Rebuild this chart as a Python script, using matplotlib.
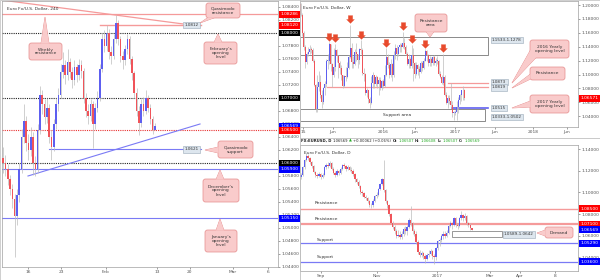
import numpy as np
import matplotlib
matplotlib.use('Agg')
import matplotlib.pyplot as plt
from matplotlib.patches import FancyBboxPatch, Polygon, Rectangle
from matplotlib.path import Path
from matplotlib import transforms

# ---- H4 chart (left) ----
h4_open0 = 1.0608
h4_close = [1.0600, 1.0590, 1.0575, 1.0560, 1.0545, 1.0518, 1.0550, 1.0590, 1.0640, 1.0665,
            1.0630, 1.0620, 1.0640, 1.0600, 1.0590, 1.0650, 1.0705, 1.0690, 1.0670, 1.0685,
            1.0640, 1.0625, 1.0660, 1.0690, 1.0705, 1.0740, 1.0750, 1.0735, 1.0755, 1.0740,
            1.0728, 1.0748, 1.0735, 1.0750, 1.0742, 1.0700, 1.0680, 1.0672, 1.0690, 1.0660,
            1.0685, 1.0700, 1.0745, 1.0790, 1.0780, 1.0800, 1.0770, 1.0765, 1.0790, 1.0815,
            1.0790, 1.0765, 1.0758, 1.0775, 1.0790, 1.0760, 1.0738, 1.0708, 1.0680, 1.0662,
            1.0690, 1.0680, 1.0700, 1.0685, 1.0668, 1.06507, 1.06569]
h4_high = [1.0625, 1.0612, 1.0598, 1.0582, 1.0568, 1.0552, 1.0560, 1.0600, 1.0652, 1.0690,
           1.0672, 1.0645, 1.0655, 1.0648, 1.0610, 1.0660, 1.0718, 1.0712, 1.0698, 1.0700,
           1.0690, 1.0650, 1.0668, 1.0700, 1.0715, 1.0752, 1.0770, 1.0758, 1.0775, 1.0762,
           1.0748, 1.0758, 1.0752, 1.0760, 1.0758, 1.0746, 1.0708, 1.0690, 1.0698, 1.0695,
           1.0692, 1.0710, 1.0752, 1.0800, 1.0805, 1.0812, 1.0806, 1.0780, 1.0798, 1.0828,
           1.0820, 1.0795, 1.0772, 1.0782, 1.0798, 1.0795, 1.0765, 1.0742, 1.0715, 1.0688,
           1.0698, 1.0702, 1.0712, 1.0705, 1.0690, 1.0672, 1.06608]
h4_low = [1.0585, 1.0580, 1.0566, 1.0550, 1.0530, 1.0455, 1.0505, 1.0540, 1.0585, 1.0630,
          1.0618, 1.0605, 1.0610, 1.0582, 1.0580, 1.0585, 1.0645, 1.0675, 1.0660, 1.0662,
          1.0630, 1.0605, 1.0618, 1.0652, 1.0680, 1.0700, 1.0730, 1.0722, 1.0728, 1.0730,
          1.0715, 1.0720, 1.0725, 1.0728, 1.0730, 1.0692, 1.0670, 1.0660, 1.0665, 1.0623,
          1.0652, 1.0678, 1.0695, 1.0740, 1.0770, 1.0772, 1.0760, 1.0752, 1.0760, 1.0785,
          1.0782, 1.0755, 1.0745, 1.0750, 1.0768, 1.0752, 1.0728, 1.0700, 1.0672, 1.0643,
          1.0655, 1.0672, 1.0675, 1.0678, 1.0660, 1.0645, 1.06507]
h4_tick_pos = [10.8, 25.2, 44.7, 66.9, 81.2, 99.9, 115.1]
h4_tick_lab = ['16', '23', 'Feb', '13', '20', 'Mar', '6']

# ---- Weekly chart (top right) ----
wk_open0 = 1.2010
wk_close = [1.1860, 1.1600, 1.1400, 1.1180, 1.1290, 1.1320, 1.1370, 1.1350, 1.1200, 1.0850,
            1.0500, 1.0820, 1.0890, 1.0700, 1.0600, 1.0800, 1.0870, 1.1200, 1.1200, 1.1440,
            1.1150, 1.1000, 1.1110, 1.1350, 1.1260, 1.1160, 1.1100, 1.0990, 1.0830, 1.0980,
            1.0960, 1.1100, 1.1250, 1.1380, 1.1180, 1.1150, 1.1330, 1.1300, 1.1210, 1.1360,
            1.1350, 1.1015, 1.1005, 1.0740, 1.0770, 1.0650, 1.0590, 1.0880, 1.0990, 1.0870,
            1.0960, 1.0860, 1.0920, 1.0800, 1.0900, 1.0830, 1.1000, 1.1250, 1.1130, 1.1000,
            1.1150, 1.1000, 1.1280, 1.1380, 1.1300, 1.1390, 1.1420, 1.1390, 1.1450, 1.1400,
            1.1300, 1.1150, 1.1220, 1.1120, 1.1280, 1.1160, 1.1010, 1.1130, 1.1080, 1.1040,
            1.1170, 1.1100, 1.1200, 1.1340, 1.1280, 1.1170, 1.1230, 1.1160, 1.1250, 1.1160,
            1.1200, 1.1200, 1.1010, 1.0970, 1.0880, 1.0970, 1.0700, 1.0590, 1.0660, 1.0620,
            1.0560, 1.0450, 1.0450, 1.0460, 1.0530, 1.0640, 1.0700, 1.0770, 1.0780, 1.0657]
wk_high = [1.2030, 1.1880, 1.1620, 1.1420, 1.1330, 1.1400, 1.1430, 1.1400, 1.1380, 1.1220,
           1.0870, 1.1000, 1.1050, 1.0990, 1.0780, 1.0820, 1.0900, 1.1230, 1.1290, 1.1466,
           1.1440, 1.1170, 1.1380, 1.1440, 1.1370, 1.1280, 1.1200, 1.1130, 1.1000, 1.1000,
           1.1110, 1.1180, 1.1280, 1.1714, 1.1450, 1.1260, 1.1360, 1.1460, 1.1300, 1.1380,
           1.1495, 1.1380, 1.1100, 1.1020, 1.0810, 1.0780, 1.0670, 1.0980, 1.1040, 1.1000,
           1.0990, 1.0980, 1.0970, 1.0960, 1.0920, 1.0940, 1.1130, 1.1376, 1.1300, 1.1180,
           1.1220, 1.1170, 1.1340, 1.1440, 1.1420, 1.1400, 1.1450, 1.1460, 1.1616, 1.1520,
           1.1430, 1.1320, 1.1290, 1.1250, 1.1427, 1.1380, 1.1180, 1.1180, 1.1150, 1.1120,
           1.1200, 1.1200, 1.1240, 1.1365, 1.1350, 1.1300, 1.1270, 1.1250, 1.1270, 1.1280,
           1.1240, 1.1260, 1.1210, 1.1050, 1.1000, 1.1299, 1.1000, 1.0750, 1.0700, 1.0700,
           1.0875, 1.0620, 1.0480, 1.0490, 1.0620, 1.0680, 1.0720, 1.0775, 1.0830, 1.0790]
wk_low = [1.1840, 1.1560, 1.1350, 1.1100, 1.1150, 1.1260, 1.1300, 1.1310, 1.1180, 1.0830,
          1.0462, 1.0460, 1.0760, 1.0660, 1.0520, 1.0570, 1.0700, 1.0820, 1.1080, 1.1150,
          1.1050, 1.0820, 1.0960, 1.1050, 1.1180, 1.0950, 1.1010, 1.0920, 1.0810, 1.0820,
          1.0900, 1.0950, 1.1080, 1.1240, 1.1100, 1.1090, 1.1130, 1.1200, 1.1100, 1.1150,
          1.1290, 1.0990, 1.0900, 1.0710, 1.0680, 1.0590, 1.0524, 1.0570, 1.0800, 1.0800,
          1.0840, 1.0800, 1.0710, 1.0780, 1.0770, 1.0810, 1.0820, 1.0980, 1.1090, 1.0950,
          1.0960, 1.0900, 1.0970, 1.1230, 1.1210, 1.1260, 1.1330, 1.1320, 1.1380, 1.1370,
          1.1280, 1.1130, 1.1100, 1.1100, 1.1100, 1.0910, 1.0950, 1.0990, 1.1000, 1.0950,
          1.1020, 1.1050, 1.1080, 1.1190, 1.1200, 1.1120, 1.1120, 1.1120, 1.1130, 1.1130,
          1.1120, 1.1150, 1.0990, 1.0950, 1.0860, 1.0850, 1.0690, 1.0570, 1.0520, 1.0570,
          1.0520, 1.0390, 1.0352, 1.0420, 1.0340, 1.0450, 1.0580, 1.0620, 1.0640, 1.0640]
wk_arrows = [19, 23, 33, 40, 57, 68, 74, 83, 95]
wk_tick_pos = [1.5, 21.5, 54.8, 76.2, 102.8, 129.5, 154.8, 177.5]
wk_tick_lab = ['15', 'Jun', '2016', 'Jun', '2017', 'Jun', '2018', 'Jun']

# ---- Daily chart (bottom right) ----
d_open0 = 1.1140
d_close = [1.1160, 1.1230, 1.1300, 1.1340, 1.1320, 1.1280, 1.1240, 1.1190, 1.1160, 1.1150,
           1.1170, 1.1140, 1.1160, 1.1230, 1.1250, 1.1240, 1.1270, 1.1220, 1.1180, 1.1160,
           1.1200, 1.1180, 1.1220, 1.1250, 1.1240, 1.1220, 1.1230, 1.1210, 1.1200, 1.1170,
           1.1120, 1.1100, 1.1060, 1.1000, 1.0990, 1.0960, 1.0950, 1.0920, 1.0885, 1.0880,
           1.0920, 1.0970, 1.0980, 1.1030, 1.1080, 1.1120, 1.1020, 1.0920, 1.0880, 1.0800,
           1.0720, 1.0680, 1.0640, 1.0600, 1.0610, 1.0590, 1.0620, 1.0660, 1.0640, 1.0680,
           1.0750, 1.0720, 1.0640, 1.0620, 1.0540, 1.0450, 1.0420, 1.0440, 1.0410, 1.0390,
           1.0420, 1.0430, 1.0460, 1.0410, 1.0400, 1.0490, 1.0550, 1.0560, 1.0600, 1.0620,
           1.0600, 1.0630, 1.0690, 1.0720, 1.0700, 1.0760, 1.0700, 1.0690, 1.0760, 1.0790,
           1.0760, 1.0780, 1.0720, 1.0700, 1.0670, 1.0657]
d_high = [1.1175, 1.1245, 1.1310, 1.1365, 1.1350, 1.1330, 1.1290, 1.1250, 1.1200, 1.1180,
          1.1185, 1.1180, 1.1175, 1.1240, 1.1270, 1.1280, 1.1285, 1.1280, 1.1230, 1.1195,
          1.1215, 1.1210, 1.1235, 1.1265, 1.1270, 1.1255, 1.1250, 1.1245, 1.1230, 1.1215,
          1.1180, 1.1135, 1.1110, 1.1070, 1.1020, 1.1000, 1.0980, 1.0960, 1.0930, 1.0905,
          1.0935, 1.0980, 1.1000, 1.1040, 1.1090, 1.1135, 1.1300, 1.1030, 1.0930, 1.0890,
          1.0810, 1.0740, 1.0700, 1.0660, 1.0650, 1.0640, 1.0640, 1.0680, 1.0690, 1.0700,
          1.0760, 1.0875, 1.0730, 1.0660, 1.0640, 1.0560, 1.0470, 1.0460, 1.0450, 1.0430,
          1.0440, 1.0470, 1.0480, 1.0470, 1.0430, 1.0500, 1.0560, 1.0580, 1.0620, 1.0640,
          1.0640, 1.0650, 1.0710, 1.0740, 1.0730, 1.0775, 1.0770, 1.0720, 1.0770, 1.0830,
          1.0800, 1.0810, 1.0790, 1.0730, 1.0720, 1.0661]
d_low = [1.1120, 1.1150, 1.1220, 1.1290, 1.1300, 1.1265, 1.1225, 1.1180, 1.1140, 1.1130,
         1.1140, 1.1125, 1.1130, 1.1150, 1.1220, 1.1225, 1.1230, 1.1205, 1.1165, 1.1140,
         1.1150, 1.1160, 1.1170, 1.1210, 1.1225, 1.1200, 1.1210, 1.1195, 1.1180, 1.1155,
         1.1100, 1.1080, 1.1045, 1.0985, 1.0970, 1.0945, 1.0930, 1.0905, 1.0870, 1.0860,
         1.0870, 1.0910, 1.0950, 1.0970, 1.1020, 1.1070, 1.1000, 1.0905, 1.0860, 1.0780,
         1.0710, 1.0660, 1.0620, 1.0580, 1.0585, 1.0570, 1.0575, 1.0600, 1.0620, 1.0610,
         1.0670, 1.0690, 1.0620, 1.0600, 1.0520, 1.0430, 1.0400, 1.0400, 1.0390, 1.0352,
         1.0380, 1.0400, 1.0420, 1.0390, 1.0340, 1.0380, 1.0470, 1.0510, 1.0540, 1.0570,
         1.0580, 1.0590, 1.0620, 1.0680, 1.0660, 1.0690, 1.0680, 1.0660, 1.0680, 1.0750,
         1.0740, 1.0750, 1.0700, 1.0680, 1.0650, 1.0651]
d_tick_pos = [11.2, 42.3, 75.6, 105.1, 121.7, 141.2]
d_tick_lab = ['Sep', 'Nov', '2017', 'Mar', 'Apr', '8']

# header line of the daily pane: (text, colour, weight)
header = [('FX:EURUSD, D', '#222222', 'bold'), ('1.06569', '#222222', 'normal'),
          ('\u25b2', '#22aa22', 'normal'), ('+0.00062 (+0.06%)', '#222222', 'normal'),
          ('O:', '#222222', 'bold'), ('1.06507', '#22aa22', 'normal'),
          ('H:', '#222222', 'bold'), ('1.06608', '#22aa22', 'normal'),
          ('L:', '#222222', 'bold'), ('1.06507', '#22aa22', 'normal'),
          ('C:', '#222222', 'bold'), ('1.06569', '#22aa22', 'normal')]

BLUE = '#5d5ff0'
RED = '#f0545a'
WICK = '#bcbcbc'
PINK_LINE = '#f59a9a'
BLUE_LINE = '#7a7af5'
TICK_C = '#555555'
FS = 3.2

fig = plt.figure(figsize=(6, 2.8), dpi=100)
fig.patch.set_facecolor('white')


def px_axes(x0, y0, x1, y1):
    return fig.add_axes([x0 / 600, 1 - y1 / 280, (x1 - x0) / 600, (y1 - y0) / 280])


def candles(ax, open0, close, high, low, min_h):
    c = np.array(close)
    o = np.concatenate([[open0], c[:-1]])
    x = np.arange(len(c))
    ax.vlines(x, low, high, color=WICK, lw=0.5, zorder=2)
    bot = np.minimum(o, c)
    hgt = np.maximum(np.abs(c - o), min_h)
    cols = [BLUE if cc >= oo else RED for oo, cc in zip(o, c)]
    ax.bar(x, hgt, 0.72, bottom=bot, color=cols, lw=0, zorder=3)


def style(ax, yticks, xpos, xlab):
    ax.yaxis.tick_right()
    ax.set_yticks(yticks)
    ax.set_yticklabels([f'{v:.5f}' for v in yticks])
    ax.set_xticks(xpos)
    ax.set_xticklabels(xlab)
    ax.tick_params(labelsize=FS, length=1.5, width=0.4, pad=1, colors=TICK_C)
    for s in ax.spines.values():
        s.set_color('#a0a0a0')
        s.set_linewidth(0.5)


def tag(ax, price, color, width_px):
    tr = transforms.blended_transform_factory(ax.transAxes, ax.transData)
    ax.text(1 + 2.8 / width_px, price, f'{price:.5f}', transform=tr, fontsize=FS,
            color='white', ha='left', va='center', clip_on=False, zorder=6,
            bbox=dict(boxstyle='square,pad=0.3', fc=color, ec='none'))


def gray_label(ax, x, y, text, ha='center'):
    ax.text(x, y, text, fontsize=3.0, color='#333333', ha=ha, va='center', zorder=6,
            bbox=dict(boxstyle='square,pad=0.3', fc='#dde6ee', ec='#9aaab8', lw=0.4))


# ---------------- left: 240 ----------------
axL = px_axes(2, 1, 278, 267)
candles(axL, h4_open0, h4_close, h4_high, h4_low, 0.00008)
axL.set_xlim(-0.5, 119.5)
axL.set_ylim(1.044, 1.08492)
style(axL, np.round(np.arange(1.044, 1.0845, 0.002), 3), h4_tick_pos, h4_tick_lab)

axL.axhline(1.08286, color=PINK_LINE, lw=0.9, zorder=1)
axL.plot([-1.4, 78], [1.0851, 1.0814], color=PINK_LINE, lw=0.9, zorder=1)
axL.plot([42, 86], [1.0812, 1.0812], color=PINK_LINE, lw=1.0, zorder=1)
for lvl, col in [(1.0800, '#222222'), (1.0700, '#222222'), (1.0600, '#222222'), (1.0650, '#e83030')]:
    axL.axhline(lvl, color=col, lw=0.8, ls=(0, (1, 1)), zorder=1)
axL.axhline(1.0590, color=BLUE_LINE, lw=0.8, zorder=1)
axL.axhline(1.0515, color=BLUE_LINE, lw=0.8, zorder=1)
axL.plot([20, 86], [1.0621, 1.0621], color=BLUE_LINE, lw=0.8, zorder=1)
axL.plot([10.8, 85.6], [1.0580, 1.0660], color=BLUE_LINE, lw=0.8, zorder=1)
gray_label(axL, 82, 1.0812, '1.0812')
gray_label(axL, 82, 1.0621, '1.0621')
axL.text(1.5, 1.0837, 'Euro Fx/U.S. Dollar, 240', fontsize=FS, color='#333333', va='center')
for p, c in [(1.08286, '#ff0000'), (1.0812, '#ff0000'), (1.0800, '#000000'), (1.0700, '#000000'),
             (1.06569, '#0000ff'), (1.0650, '#ff0000'), (1.0600, '#000000'), (1.0590, '#0000ff'),
             (1.0515, '#0000ff')]:
    tag(axL, p, c, 276)

# ---------------- top right: weekly ----------------
axW = px_axes(300, 1, 578, 127)
axW.set_xlim(-0.5, 184.8)
axW.set_ylim(1.02446, 1.20576)
axW.add_patch(Rectangle((-0.5, 1.1278), 125.3, 1.1533 - 1.1278, fc='none', ec='#777777', lw=0.6, zorder=1))
axW.add_patch(Rectangle((-0.5, 1.0333), 123.3, 1.0502 - 1.0333, fc='none', ec='#777777', lw=0.6, zorder=1))
axW.plot([98.2, 124.8], [1.0873, 1.0873], color=PINK_LINE, lw=0.9, zorder=1)
axW.plot([17.5, 124.8], [1.0819, 1.0819], color=PINK_LINE, lw=0.9, zorder=1)
axW.plot([100.8, 124.8], [1.0515, 1.0515], color='#6060f0', lw=1.2, zorder=1)
candles(axW, wk_open0, wk_close, wk_high, wk_low, 0.0004)
style(axW, np.round(np.arange(1.04, 1.2005, 0.02), 2), wk_tick_pos, wk_tick_lab)
axW.text(64.2, 1.0417, 'Support area', fontsize=FS, color='#333333', ha='center', va='center')
axW.text(1.5, 1.1950, 'Euro Fx/U.S. Dollar, W', fontsize=FS, color='#333333', va='center')
gray_label(axW, 127.5, 1.1496, '1.1533-1.1278', ha='left')
gray_label(axW, 127.5, 1.0892, '1.0873', ha='left')
gray_label(axW, 127.5, 1.0814, '1.0819', ha='left')
gray_label(axW, 127.5, 1.0515, '1.0515', ha='left')
gray_label(axW, 127.5, 1.0385, '1.0333-1.0502', ha='left')
tag(axW, 1.06571, '#ff0000', 278)

arrow_path = Path([(-0.28, 0.5), (0.28, 0.5), (0.28, 0.0), (0.5, 0.0), (0.0, -0.5),
                   (-0.5, 0.0), (-0.28, 0.0), (-0.28, 0.5)])
arr_tr = transforms.offset_copy(axW.transData, fig=fig, y=5.5, units='dots')
axW.plot(wk_arrows, [wk_high[i] for i in wk_arrows], ls='none', marker=arrow_path,
         ms=5.6, color='#e84a2c', mec='#e84a2c', mew=0.2, transform=arr_tr, zorder=5)

# ---------------- bottom right: daily ----------------
axD = px_axes(300, 145, 578, 271)
axD.set_xlim(-0.5, 153.9)
axD.set_ylim(1.02755, 1.14369)
axD.axhline(1.0850, color=PINK_LINE, lw=1.0, zorder=1)
axD.axhline(1.0710, color=PINK_LINE, lw=1.6, zorder=1)
axD.axhline(1.0529, color=BLUE_LINE, lw=0.9, zorder=1)
axD.axhline(1.0360, color=BLUE_LINE, lw=0.9, zorder=1)
axD.add_patch(Rectangle((84, 1.0589), 27.7, 1.0642 - 1.0589, fc='white', ec='#888888', lw=0.6, zorder=1))
candles(axD, d_open0, d_close, d_high, d_low, 0.00025)
style(axD, np.round(np.arange(1.04, 1.1405, 0.02), 2), d_tick_pos, d_tick_lab)
axD.text(7.8, 1.0902, 'Resistance', fontsize=FS, color='#333333', va='center')
axD.text(7.8, 1.0755, 'Resistance', fontsize=FS, color='#333333', va='center')
axD.text(9.0, 1.0561, 'Support', fontsize=FS, color='#333333', va='center')
axD.text(9.0, 1.0405, 'Support', fontsize=FS, color='#333333', va='center')
axD.text(1.5, 1.1360, 'Euro Fx/U.S. Dollar, D', fontsize=FS, color='#333333', va='center')
gray_label(axD, 112.8, 1.0614, '1.0589-1.0642', ha='left')
for p, c in [(1.0850, '#ff0000'), (1.0710, '#ff0000'), (1.06569, '#0000ff'),
             (1.0529, '#0000ff'), (1.0360, '#0000ff')]:
    tag(axD, p, c, 278)

# ---------------- overlay: callouts, header, borders ----------------
ov = fig.add_axes([0, 0, 1, 1], zorder=10)
ov.set_xlim(0, 600)
ov.set_ylim(280, 0)
ov.axis('off')
ov.patch.set_alpha(0)

CALL_FC = '#f9cbcb'
CALL_EC = '#e58c8c'


def callout(text, box, base, tip):
    x0, y0, x1, y1 = box
    tri = [base[0], base[1], tip]
    ov.add_patch(Polygon(tri, closed=True, fc=CALL_FC, ec=CALL_EC, lw=0.5, zorder=1))
    ov.add_patch(FancyBboxPatch((x0, y0), x1 - x0, y1 - y0,
                                boxstyle='round,pad=0,rounding_size=2.5',
                                fc=CALL_FC, ec=CALL_EC, lw=0.5, zorder=2))
    ov.add_patch(Polygon(tri, closed=True, fc=CALL_FC, ec='none', zorder=3))
    ov.text((x0 + x1) / 2, (y0 + y1) / 2, text, fontsize=FS, color='#333333',
            ha='center', va='center', linespacing=1.0, zorder=4)


callout('Weekly\nresistance', (29, 43, 62, 60), [(41, 43.5), (49, 43.5)], (45, 17))
callout('Quasimodo\nresistance', (206, 3, 240, 18), [(208, 17.5), (215, 17.5)], (200, 23))
callout("February's\nopening\nlevel", (204, 42, 237, 64), [(214, 42.5), (222, 42.5)], (218, 34))
callout('Quasimodo\nsupport', (218, 141, 253, 158), [(218.5, 147), (218.5, 153)], (205, 150))
callout("December's\nopening\nlevel", (203, 179, 239, 202), [(216, 179.5), (224, 179.5)], (220, 170))
callout("January's\nopening\nlevel", (205, 230, 237, 252), [(216, 230.5), (224, 230.5)], (220, 219))
callout('Resistance\narea', (415, 14, 447, 32), [(426, 31.5), (434, 31.5)], (430, 37))
callout('2016 Yearly\nopening level', (530, 40, 569, 58), [(530.5, 50), (536, 57.5)], (512, 83))
callout('Resistance', (530, 67, 565, 80), [(530.5, 74), (530.5, 79)], (512, 88))
callout('2017 Yearly\nopening level', (530, 95, 569, 113), [(530.5, 101), (530.5, 107)], (512, 108))
callout('Demand', (545, 227, 573, 238), [(545.5, 230), (545.5, 236)], (537, 233))

# header bar of the daily pane, pieces laid out one after another
renderer = fig.canvas.get_renderer()
hx = 301.0
for t, c, w in header:
    txt = ov.text(hx, 141, t, fontsize=2.7, color=c, weight=w, ha='left', va='center')
    hx += txt.get_window_extent(renderer).width + 1.2

# pane borders
ov.plot([299.5, 299.5], [0, 280], color='#c0c0c0', lw=0.6)
ov.plot([300, 600], [137.5, 137.5], color='#c0c0c0', lw=0.6)
ov.add_patch(Rectangle((0.3, 0.3), 599.4, 279.4, fc='none', ec='#c8c8c8', lw=0.6))

fig.savefig('out.png', dpi=100)
